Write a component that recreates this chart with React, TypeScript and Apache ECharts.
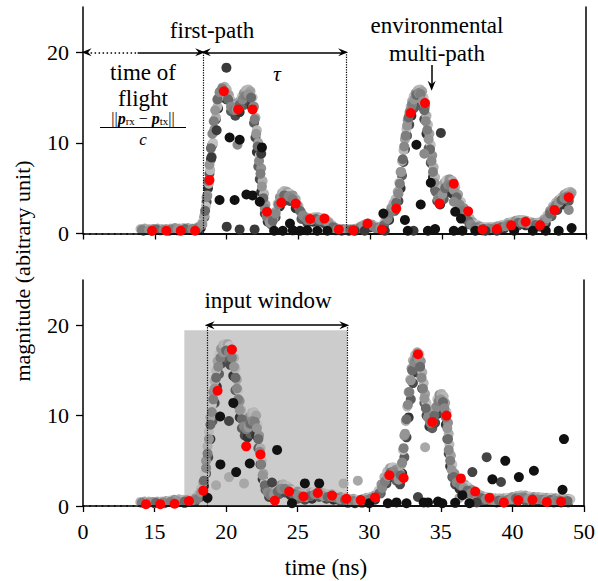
import React, { useEffect, useRef } from "react";
import * as echarts from "echarts";

const FONT = "Liberation Serif, serif";

// x axis: drawn positions 10..45 ns, end labels show the broken-axis values
const X_LABELS: Record<number, string> = { 10: "0", 15: "15", 20: "20", 25: "25", 30: "30", 35: "35", 40: "40", 45: "50" };
const Y_TICKS = [0, 10, 20];

// ---------- top panel ----------
const topRedT = [14.8, 15.8, 16.8, 17.8, 18.8, 19.8, 20.8, 21.8, 22.8, 23.8, 24.8, 25.8, 26.8, 27.8, 28.8, 29.8, 30.8, 31.8, 32.8, 33.8, 34.8, 35.8, 36.8, 37.8, 38.8, 39.8, 40.8, 41.8, 42.8, 43.8];
const topRedV = [0.3, 0.3, 0.3, 0.3, 5.9, 15.7, 13.7, 13.7, 2.4, 3.4, 3.3, 1.6, 1.65, 0.45, 0.35, 1.1, 0.45, 2.75, 13.3, 14.4, 3.3, 5.5, 2.45, 0.45, 0.5, 0.9, 1.3, 0.9, 2.6, 4.0];

const topLight = [[14.0,0.5],[14.3,0.55],[14.6,0.5],[14.9,0.5],[15.2,0.55],[15.5,0.5],[15.8,0.5],[16.1,0.55],[16.4,0.6],[16.7,0.55],[17.0,0.6],[17.3,0.6],[17.6,0.55],[17.9,0.6],[18.1,0.8],[18.3,1.2],[18.45,2.0],[18.55,3.0],[18.65,4.2],[18.75,5.5],[18.85,7.0],[18.95,8.5],[19.05,10.0],[19.15,11.5],[19.25,12.8],[19.35,14.0],[19.45,15.0],[19.55,15.7],[19.7,16.1],[19.85,16.2],[20.0,15.9],[20.15,15.3],[20.3,14.7],[20.45,14.3],[20.6,14.1],[20.75,14.2],[20.9,14.6],[21.05,15.1],[21.2,15.5],[21.35,15.8],[21.5,15.9],[21.65,15.7],[21.8,15.0],[21.9,14.0],[22.0,12.8],[22.1,11.4],[22.2,10.0],[22.3,8.6],[22.4,7.2],[22.5,5.8],[22.6,4.4],[22.7,3.2],[22.8,2.2],[22.95,1.5],[23.1,1.3],[23.25,1.6],[23.4,2.4],[23.55,3.3],[23.7,4.0],[23.85,4.5],[24.0,4.7],[24.2,4.6],[24.4,4.4],[24.6,4.2],[24.8,3.8],[25.0,3.0],[25.2,2.3],[25.4,1.9],[25.6,1.7],[25.85,1.7],[26.1,1.8],[26.35,1.8],[26.6,1.7],[26.85,1.6],[27.1,1.3],[27.35,0.9],[27.6,0.6],[27.85,0.5],[28.1,0.5],[28.35,0.5],[28.6,0.5],[28.85,0.5],[29.1,0.6],[29.35,0.8],[29.6,1.0],[29.85,1.1],[30.1,1.0],[30.35,0.8],[30.6,0.7],[30.85,0.9],[31.0,1.3],[31.15,1.8],[31.3,2.3],[31.45,2.8],[31.6,3.3],[31.75,3.8],[31.9,4.6],[32.0,5.6],[32.1,6.8],[32.2,8.0],[32.3,9.2],[32.4,10.4],[32.5,11.5],[32.6,12.5],[32.7,13.3],[32.8,14.0],[32.9,14.6],[33.0,15.1],[33.15,15.5],[33.3,15.8],[33.45,15.9],[33.6,15.7],[33.7,15.0],[33.8,14.0],[33.9,13.0],[34.0,12.0],[34.1,11.0],[34.2,9.8],[34.3,8.6],[34.4,7.3],[34.5,6.2],[34.6,5.3],[34.7,4.6],[34.8,4.2],[34.9,4.4],[35.0,5.0],[35.15,5.6],[35.3,5.9],[35.5,6.0],[35.7,5.8],[35.9,5.1],[36.1,4.3],[36.3,3.5],[36.5,2.8],[36.7,2.2],[36.9,1.7],[37.1,1.3],[37.35,1.0],[37.6,0.8],[37.85,0.7],[38.1,0.7],[38.35,0.7],[38.6,0.75],[38.85,0.8],[39.1,0.9],[39.35,1.0],[39.6,1.2],[39.85,1.3],[40.1,1.4],[40.35,1.5],[40.6,1.5],[40.85,1.4],[41.1,1.3],[41.35,1.2],[41.6,1.2],[41.85,1.3],[42.1,1.6],[42.3,2.0],[42.5,2.5],[42.7,3.0],[42.9,3.4],[43.1,3.7],[43.3,4.0],[43.5,4.3],[43.7,4.5],[43.9,4.6],[44.0,4.5]];

const topMid = [[14.1,0.4],[14.6,0.4],[15.1,0.45],[15.6,0.4],[16.1,0.45],[16.6,0.5],[17.1,0.5],[17.6,0.5],[18.0,0.6],[18.3,1.0],[18.5,2.5],[18.6,4.0],[18.7,5.8],[18.8,7.6],[18.9,9.4],[19.0,11.0],[19.1,12.4],[19.2,13.6],[19.35,14.8],[19.5,15.6],[19.7,16.0],[19.9,15.6],[20.1,14.8],[20.3,14.0],[20.5,13.6],[20.7,13.7],[20.9,14.2],[21.1,14.8],[21.3,15.2],[21.5,15.4],[21.7,15.0],[21.85,14.0],[21.95,12.6],[22.05,11.0],[22.15,9.6],[22.25,8.0],[22.35,6.6],[22.45,5.2],[22.55,3.9],[22.65,2.8],[22.8,1.8],[23.0,1.2],[23.2,1.4],[23.4,2.2],[23.6,3.2],[23.8,3.9],[24.0,4.2],[24.3,4.1],[24.6,3.8],[24.9,3.2],[25.1,2.5],[25.3,2.0],[25.6,1.5],[25.9,1.5],[26.2,1.6],[26.5,1.5],[26.8,1.4],[27.1,1.1],[27.4,0.7],[27.7,0.45],[28.0,0.4],[28.3,0.4],[28.6,0.4],[28.9,0.45],[29.2,0.55],[29.5,0.8],[29.8,0.9],[30.1,0.85],[30.4,0.6],[30.7,0.6],[30.95,0.9],[31.2,1.6],[31.4,2.3],[31.6,2.9],[31.8,3.4],[31.95,4.4],[32.05,5.5],[32.15,6.8],[32.25,8.2],[32.35,9.6],[32.45,10.8],[32.55,11.9],[32.65,12.8],[32.75,13.5],[32.9,14.2],[33.05,14.8],[33.2,15.3],[33.35,15.5],[33.5,15.4],[33.65,14.6],[33.75,13.6],[33.85,12.4],[33.95,11.4],[34.05,10.4],[34.15,9.3],[34.25,8.0],[34.35,6.8],[34.45,5.6],[34.55,4.6],[34.7,3.8],[34.85,3.7],[35.0,4.3],[35.2,5.0],[35.4,5.4],[35.6,5.3],[35.8,4.8],[36.0,4.0],[36.2,3.2],[36.4,2.5],[36.6,1.9],[36.8,1.4],[37.0,1.0],[37.3,0.7],[37.6,0.5],[37.9,0.5],[38.2,0.5],[38.5,0.55],[38.8,0.6],[39.1,0.7],[39.4,0.8],[39.7,1.0],[40.0,1.1],[40.3,1.2],[40.6,1.2],[40.9,1.1],[41.2,1.0],[41.5,0.95],[41.8,1.0],[42.1,1.3],[42.3,1.7],[42.5,2.2],[42.7,2.7],[42.9,3.1],[43.1,3.4],[43.3,3.7],[43.5,3.9],[43.7,4.1],[43.9,4.2]];

const topDark = [[14.2,0.3],[14.8,0.3],[15.4,0.35],[16.0,0.3],[16.6,0.35],[17.2,0.4],[17.8,0.4],[18.2,0.6],[18.45,1.8],[18.6,3.5],[18.7,5.0],[18.8,6.6],[18.9,8.2],[19.0,9.8],[19.1,11.2],[19.25,12.6],[19.4,13.8],[19.6,15.0],[19.8,15.3],[20.0,14.8],[20.3,13.5],[20.6,13.0],[20.9,13.4],[21.2,14.2],[21.5,14.6],[21.75,14.0],[21.9,12.2],[22.0,10.6],[22.1,9.0],[22.2,7.4],[22.3,6.0],[22.4,4.6],[22.5,3.4],[22.65,2.2],[22.85,1.3],[23.1,1.0],[23.4,1.8],[23.7,3.0],[24.0,3.6],[24.4,3.6],[24.8,2.8],[25.2,1.6],[25.6,1.2],[26.0,1.3],[26.4,1.3],[26.8,1.1],[27.2,0.7],[27.6,0.35],[28.0,0.3],[28.5,0.3],[29.0,0.35],[29.5,0.6],[30.0,0.7],[30.5,0.45],[30.9,0.6],[31.3,1.5],[31.7,2.5],[31.95,3.6],[32.1,5.0],[32.2,6.4],[32.3,7.9],[32.4,9.3],[32.55,10.8],[32.7,12.0],[32.85,13.0],[33.0,13.8],[33.2,14.5],[33.4,14.8],[33.6,14.0],[33.75,12.6],[33.9,11.0],[34.05,9.4],[34.2,7.8],[34.35,6.2],[34.5,4.8],[34.65,3.6],[34.85,3.2],[35.1,3.8],[35.4,4.6],[35.7,4.4],[36.0,3.5],[36.3,2.4],[36.6,1.6],[36.9,1.0],[37.3,0.5],[37.8,0.35],[38.3,0.35],[38.8,0.4],[39.3,0.55],[39.8,0.8],[40.3,0.9],[40.8,0.9],[41.3,0.7],[41.8,0.75],[42.2,1.1],[42.6,1.9],[43.0,2.6],[43.4,3.2],[43.8,3.6]];

const topBlack = [[20.2,10.6],[20.9,10.35],[19.5,3.7],[20.55,3.7],[21.37,4.3],[21.8,4.2],[22.3,3.5],[22.45,9.5],[24.4,1.1],[33.2,9.8],[33.5,3.2],[34.2,5.6],[35.9,2.4],[36.3,1.65],[30.9,2.2],[32.4,1.5],[23.3,0.3],[23.9,0.3],[24.6,0.35],[25.1,0.3],[25.6,0.35],[26.3,0.3],[27.0,0.3],[32.6,0.3],[34.0,0.3],[34.5,0.5],[35.8,0.3],[36.4,0.3],[37.3,0.3],[40.0,0.3],[41.3,0.3],[42.2,0.3],[43.1,0.3],[44.0,0.6]];
const topDarkGray = [[19.98,18.3],[20.0,0.75],[20.9,0.45],[21.94,0.45],[18.94,8.4],[19.3,11.4],[22.4,8.8],[34.9,11.1],[28.9,0.3],[29.6,0.3],[31.0,0.3],[33.0,0.3],[38.0,0.3],[38.8,0.3]];
const topLightOut = [[20.75,9.8],[33.75,8.8],[35.8,3.5],[43.8,2.6]];

// ---------- bottom panel ----------
const botRedT = [14.4, 15.4, 16.4, 17.4, 18.4, 19.4, 20.4, 21.4, 22.4, 23.4, 24.4, 25.4, 26.4, 27.4, 28.4, 29.4, 30.4, 31.4, 32.4, 33.4, 34.4, 35.4, 36.4, 37.4, 38.4, 39.4, 40.4, 41.4, 42.4, 43.4];
const botRedV = [0.2, 0.2, 0.25, 0.55, 1.7, 12.75, 17.3, 6.6, 5.7, 0.6, 1.6, 1.05, 1.45, 1.15, 0.8, 0.65, 0.95, 3.4, 3.1, 16.8, 9.3, 10.0, 3.05, 1.6, 0.9, 0.4, 0.65, 0.7, 0.45, 0.5];

const botLight = [[14.0,0.45],[14.3,0.5],[14.6,0.5],[14.9,0.45],[15.2,0.5],[15.5,0.5],[15.8,0.55],[16.1,0.6],[16.4,0.7],[16.7,0.75],[17.0,0.7],[17.3,0.7],[17.6,0.75],[17.9,0.9],[18.1,1.3],[18.25,1.9],[18.4,2.6],[18.5,3.6],[18.6,5.0],[18.7,6.6],[18.8,8.2],[18.9,9.8],[19.0,11.2],[19.1,12.6],[19.2,13.8],[19.3,15.0],[19.4,16.0],[19.5,16.8],[19.65,17.4],[19.8,17.8],[19.95,17.9],[20.1,17.9],[20.25,17.7],[20.4,17.3],[20.55,16.4],[20.65,15.2],[20.75,14.0],[20.85,12.8],[20.95,11.6],[21.05,10.6],[21.2,9.8],[21.35,9.4],[21.5,9.5],[21.65,9.9],[21.8,10.3],[21.95,10.4],[22.1,10.0],[22.2,9.0],[22.3,7.8],[22.4,6.4],[22.5,5.0],[22.6,3.6],[22.7,2.6],[22.85,1.9],[23.0,1.6],[23.2,1.5],[23.4,1.7],[23.6,2.0],[23.8,2.3],[24.0,2.4],[24.25,2.2],[24.5,1.9],[24.75,1.7],[25.0,1.6],[25.3,1.4],[25.6,1.3],[25.9,1.5],[26.2,1.6],[26.5,1.6],[26.8,1.4],[27.1,1.3],[27.4,1.3],[27.7,1.2],[28.0,1.0],[28.3,0.9],[28.6,0.8],[28.9,0.8],[29.2,0.7],[29.5,0.75],[29.8,0.9],[30.1,1.0],[30.4,1.2],[30.65,1.7],[30.85,2.4],[31.05,3.2],[31.25,3.8],[31.45,4.2],[31.65,4.3],[31.85,4.0],[32.0,3.6],[32.15,3.6],[32.25,4.6],[32.35,6.2],[32.45,7.8],[32.55,9.4],[32.65,11.0],[32.75,12.6],[32.85,14.0],[32.95,15.2],[33.05,16.1],[33.2,16.7],[33.35,17.0],[33.5,16.8],[33.6,16.0],[33.7,14.8],[33.8,13.6],[33.9,12.4],[34.0,11.4],[34.15,10.4],[34.3,9.8],[34.45,9.9],[34.6,10.8],[34.75,11.8],[34.9,12.3],[35.05,12.4],[35.2,12.1],[35.3,11.4],[35.4,10.4],[35.5,9.2],[35.55,8.0],[35.6,6.8],[35.7,5.6],[35.8,4.6],[35.95,3.6],[36.15,3.0],[36.4,2.7],[36.65,2.4],[36.9,2.1],[37.15,1.8],[37.4,1.5],[37.65,1.3],[37.9,1.1],[38.2,1.0],[38.5,0.9],[38.8,0.85],[39.1,0.85],[39.4,0.85],[39.7,0.9],[40.0,1.0],[40.3,1.1],[40.6,1.2],[40.9,1.15],[41.2,1.05],[41.5,1.0],[41.8,1.0],[42.1,0.95],[42.4,0.9],[42.7,0.9],[43.0,0.85],[43.3,0.85],[43.6,0.8],[43.9,0.8],[44.05,0.75]];

const botMid = [[14.1,0.35],[14.6,0.4],[15.1,0.35],[15.6,0.4],[16.1,0.45],[16.6,0.55],[17.1,0.5],[17.6,0.55],[18.0,0.8],[18.25,1.5],[18.45,2.8],[18.6,4.2],[18.7,5.8],[18.8,7.4],[18.9,9.0],[19.0,10.4],[19.1,11.8],[19.2,13.0],[19.3,14.2],[19.45,15.4],[19.6,16.4],[19.8,17.0],[20.0,17.2],[20.2,17.0],[20.4,16.4],[20.55,15.4],[20.65,14.2],[20.75,13.0],[20.85,11.8],[20.95,10.6],[21.1,9.6],[21.25,8.8],[21.4,8.5],[21.55,8.7],[21.7,9.1],[21.85,9.4],[22.0,9.3],[22.15,8.6],[22.25,7.4],[22.35,6.0],[22.45,4.6],[22.55,3.4],[22.7,2.3],[22.9,1.5],[23.1,1.2],[23.35,1.3],[23.6,1.6],[23.85,1.9],[24.1,1.9],[24.4,1.6],[24.7,1.3],[25.0,1.2],[25.3,1.0],[25.6,1.0],[25.9,1.1],[26.2,1.3],[26.5,1.3],[26.8,1.1],[27.1,1.0],[27.4,1.0],[27.7,0.9],[28.0,0.75],[28.3,0.65],[28.6,0.55],[28.9,0.55],[29.2,0.5],[29.5,0.55],[29.8,0.65],[30.1,0.8],[30.4,0.95],[30.7,1.4],[30.9,2.0],[31.1,2.7],[31.3,3.3],[31.5,3.7],[31.7,3.8],[31.9,3.4],[32.05,2.9],[32.2,3.4],[32.3,4.8],[32.4,6.4],[32.5,8.0],[32.6,9.6],[32.7,11.2],[32.8,12.6],[32.9,13.9],[33.0,15.0],[33.15,15.9],[33.3,16.4],[33.45,16.3],[33.55,15.4],[33.65,14.2],[33.75,13.0],[33.85,11.9],[33.95,10.8],[34.1,9.8],[34.25,9.2],[34.4,9.3],[34.55,10.0],[34.7,11.0],[34.85,11.6],[35.0,11.8],[35.15,11.5],[35.25,10.8],[35.35,9.8],[35.45,8.6],[35.5,7.4],[35.55,6.2],[35.65,5.0],[35.75,4.0],[35.9,3.2],[36.1,2.6],[36.35,2.3],[36.6,2.0],[36.85,1.7],[37.1,1.4],[37.35,1.2],[37.6,1.0],[37.85,0.85],[38.15,0.75],[38.45,0.65],[38.75,0.6],[39.05,0.6],[39.35,0.6],[39.65,0.65],[39.95,0.75],[40.25,0.85],[40.55,0.95],[40.85,0.9],[41.15,0.8],[41.45,0.75],[41.75,0.75],[42.05,0.7],[42.35,0.65],[42.65,0.65],[42.95,0.6],[43.25,0.6],[43.55,0.55],[43.85,0.55]];

const botDark = [[14.3,0.3],[15.0,0.3],[15.7,0.3],[16.4,0.35],[17.1,0.35],[17.8,0.45],[18.2,1.0],[18.45,2.2],[18.6,3.6],[18.75,5.4],[18.9,7.4],[19.05,9.4],[19.2,11.4],[19.35,13.2],[19.5,14.6],[19.7,15.8],[19.9,16.4],[20.1,16.3],[20.3,15.6],[20.5,14.4],[20.65,12.8],[20.8,11.2],[20.95,9.8],[21.1,8.6],[21.3,7.8],[21.5,7.6],[21.7,8.0],[21.9,8.4],[22.1,7.8],[22.25,6.4],[22.4,4.6],[22.55,3.0],[22.75,1.8],[23.0,1.0],[23.3,0.9],[23.7,1.3],[24.1,1.5],[24.5,1.2],[25.0,0.8],[25.5,0.7],[26.0,0.8],[26.5,1.0],[27.0,0.8],[27.5,0.7],[28.0,0.5],[28.5,0.35],[29.0,0.3],[29.5,0.35],[30.0,0.5],[30.4,0.7],[30.8,1.4],[31.2,2.5],[31.6,3.2],[31.9,2.8],[32.15,2.4],[32.3,3.6],[32.45,5.4],[32.6,7.6],[32.75,9.8],[32.9,11.8],[33.05,13.6],[33.2,14.8],[33.4,15.4],[33.55,14.6],[33.7,13.0],[33.85,11.4],[34.0,10.0],[34.2,8.8],[34.4,8.6],[34.6,9.2],[34.8,10.2],[35.0,10.8],[35.2,10.4],[35.35,9.0],[35.45,7.4],[35.55,5.8],[35.65,4.4],[35.8,3.2],[36.0,2.4],[36.3,1.9],[36.7,1.5],[37.1,1.1],[37.5,0.8],[37.9,0.6],[38.4,0.45],[38.9,0.4],[39.4,0.4],[39.9,0.5],[40.4,0.6],[40.9,0.6],[41.4,0.5],[41.9,0.5],[42.4,0.45],[42.9,0.4],[43.4,0.4],[43.9,0.4]];

const botBlack = [[19.58,9.9],[20.5,11.4],[19.6,4.6],[20.7,3.75],[21.65,4.7],[23.56,6.2],[18.7,0.9],[43.6,7.4],[39.5,5.0],[41.5,3.9],[40.45,3.2],[38.6,2.95],[43.5,1.8],[25.5,2.5],[26.5,2.5],[34.8,0.5],[36.5,1.2],[30.0,0.3],[31.3,0.3],[31.9,0.4],[32.6,0.3],[33.8,0.4],[34.1,0.4],[35.1,0.3],[36.0,0.35],[37.0,0.3],[24.6,0.3]];
const botDarkGray = [[20.2,9.4],[23.2,2.6],[38.2,5.4],[39.2,2.65],[37.2,3.75],[33.4,1.0],[37.5,0.4]];
const botLightOut = [[19.3,2.3],[20.2,3.2],[21.25,2.5],[33.9,6.5],[29.2,2.8],[28.2,2.5],[37.0,0.4],[36.3,0.9]];

// shaded input window (x0, x1, top)
const WINDOW = { x0: 17.08, x1: 28.45, top: 19.45 };
// annotation positions in data units
const TOP_FIRST = 18.35, TOP_TAU_END = 28.3, BOT_FIRST = 18.65, BOT_TAU_END = 28.45, BREAK_END = 13.8, ARROW_Y = 20;
const MULTIPATH_ARROW = { t: 34.26, from: 18.6, to: 16.3 };

// grey shades used to give each cloud of samples its mottled look
const SHADES_LIGHT = ["#b8b8b8", "#a2a2a2", "#c2c2c2", "#929292", "#aeaeae"];
const SHADES_MID = ["#7e7e7e", "#959595", "#6a6a6a", "#888888"];
const SHADES_DARK = ["#4a4a4a", "#333333", "#5e5e5e"];
const C_DGRAY = "#3a3a3a", C_BLACK = "#111111", C_RED = "#ff0000";

const ARROW = "path://M5,0 L10,10 L5,6.5 L0,10 Z";

function scatter(data: number[][], color: string | string[], xi: number, z: number) {
  const fill = Array.isArray(color) ? (p: any) => color[p.dataIndex % color.length] : color;
  return {
    type: "scatter",
    xAxisIndex: xi,
    yAxisIndex: xi,
    data,
    symbolSize: 10,
    itemStyle: { color: fill, opacity: 1 },
    silent: true,
    z,
  };
}

function seg(a: number[], b: number[], style: any, s0 = "none", s1 = "none") {
  return [
    { coord: a, symbol: s0, symbolSize: [8, 10], lineStyle: style },
    { coord: b, symbol: s1, symbolSize: [8, 10] },
  ];
}

const SOLID = { color: "#000", width: 1.5, type: "solid" };
const DOT_BASE = { color: "#000", width: 1.6, type: [1.6, 4.6] };
const DOT_TOF = { color: "#000", width: 1.5, type: [1.5, 2.5] };
const DOT_V = { color: "#000", width: 1.2, type: [1.2, 1.3] };

function frameAxesX(grid: number, labels: boolean) {
  return [
    {
      gridIndex: grid, type: "value", min: 10, max: 45, interval: 5, position: "bottom",
      axisLine: { show: false },
      axisTick: { show: true, length: 6, lineStyle: { color: "#000", width: 1.3 } },
      axisLabel: {
        show: labels, fontFamily: FONT, fontSize: 22, color: "#000", margin: 14,
        formatter: (v: number) => X_LABELS[v] ?? "",
      },
      splitLine: { show: false },
    },
    {
      gridIndex: grid, type: "value", min: 10, max: 45, position: "top",
      axisLine: { show: true, lineStyle: { color: "#000", width: 1.5 } },
      axisTick: { show: false }, axisLabel: { show: false }, splitLine: { show: false },
    },
  ];
}

function frameAxesY(grid: number) {
  return [
    {
      gridIndex: grid, type: "value", min: 0, max: 25, interval: 10, position: "left",
      axisLine: { show: true, lineStyle: { color: "#000", width: 1.5 } },
      axisTick: { show: true, length: 7, customValues: Y_TICKS, lineStyle: { color: "#000", width: 1.3 } },
      axisLabel: { fontFamily: FONT, fontSize: 22, color: "#000", margin: 14, customValues: Y_TICKS },
      splitLine: { show: false },
    },
    {
      gridIndex: grid, type: "value", min: 0, max: 25, position: "right",
      axisLine: { show: true, lineStyle: { color: "#000", width: 1.5 } },
      axisTick: { show: false }, axisLabel: { show: false }, splitLine: { show: false },
    },
  ];
}

const topLines = [
  seg([10, 0], [BREAK_END, 0], DOT_BASE),
  seg([BREAK_END, 0], [45, 0], SOLID),
  seg([10.25, ARROW_Y], [BREAK_END, ARROW_Y], DOT_TOF, ARROW, "none"),
  seg([BREAK_END, ARROW_Y], [TOP_FIRST - 0.2, ARROW_Y], SOLID, "none", ARROW),
  seg([TOP_FIRST + 0.2, ARROW_Y], [TOP_TAU_END - 0.2, ARROW_Y], SOLID, ARROW, ARROW),
  seg([TOP_FIRST, 0], [TOP_FIRST, ARROW_Y], DOT_V),
  seg([TOP_TAU_END, 0.6], [TOP_TAU_END, ARROW_Y], DOT_V),
  seg([MULTIPATH_ARROW.t, MULTIPATH_ARROW.from], [MULTIPATH_ARROW.t, MULTIPATH_ARROW.to], SOLID, "none", ARROW),
];

const botLines = [
  seg([10, 0], [BREAK_END, 0], DOT_BASE),
  seg([BREAK_END, 0], [45, 0], SOLID),
  seg([BOT_FIRST + 0.2, ARROW_Y], [BOT_TAU_END - 0.2, ARROW_Y], SOLID, ARROW, ARROW),
  seg([BOT_FIRST, 0], [BOT_FIRST, ARROW_Y], DOT_V),
  seg([BOT_TAU_END, 0], [BOT_TAU_END, ARROW_Y], DOT_V),
];

function helper(xi: number, lines: any[], area?: any) {
  return {
    type: "line",
    xAxisIndex: xi,
    yAxisIndex: xi,
    data: [],
    silent: true,
    z: 1,
    markLine: {
      silent: true, animation: false, symbol: "none",
      label: { show: false }, emphasis: { disabled: true },
      data: lines,
    },
    markArea: area
      ? { silent: true, itemStyle: { color: "#cccccc", opacity: 1 }, label: { show: false }, data: [area] }
      : undefined,
  };
}

const textStyle = (text: string, size = 23, extra: any = {}) => ({
  text, fontFamily: FONT, fontSize: size, fill: "#000", align: "center", verticalAlign: "middle", ...extra,
});

export default function App() {
  const ref = useRef<HTMLDivElement>(null);
  useEffect(() => {
    const chart = echarts.init(ref.current!, null, { renderer: "svg" });
    const option: any = {
      animation: false,
      backgroundColor: "#fff",
      textStyle: { fontFamily: FONT },
      grid: [
        { left: 83, top: 7, width: 503, height: 226.5 },
        { left: 83, top: 280, width: 503, height: 226 },
      ],
      xAxis: [...frameAxesX(0, false), ...frameAxesX(1, true)],
      yAxis: [...frameAxesY(0), ...frameAxesY(1)],
      series: [
        helper(0, topLines),
        scatter(topDark, SHADES_DARK, 0, 2),
        scatter(topLight, SHADES_LIGHT, 0, 3),
        scatter(topMid, SHADES_MID, 0, 4),
        scatter(topLightOut, "#8a8a8a", 0, 5),
        scatter(topDarkGray, C_DGRAY, 0, 5),
        scatter(topBlack, C_BLACK, 0, 5),
        scatter(topRedT.map((t, i) => [t, topRedV[i]]), C_RED, 0, 6),
        helper(2, botLines, [{ coord: [WINDOW.x0, 0] }, { coord: [WINDOW.x1, WINDOW.top] }]),
        scatter(botDark, SHADES_DARK, 2, 2),
        scatter(botLight, SHADES_LIGHT, 2, 3),
        scatter(botMid, SHADES_MID, 2, 4),
        scatter(botLightOut, "#a8a8a8", 2, 5),
        scatter(botDarkGray, "#444444", 2, 5),
        scatter(botBlack, C_BLACK, 2, 5),
        scatter(botRedT.map((t, i) => [t, botRedV[i]]), C_RED, 2, 6),
      ],
      graphic: [
        { type: "text", x: 212, y: 30, style: textStyle("first-path") },
        { type: "text", x: 143, y: 72, style: textStyle("time of") },
        { type: "text", x: 143, y: 98, style: textStyle("flight") },
        {
          type: "text", x: 143, y: 118,
          style: {
            text: "{a|||}{p|p}{s|rx}{a| − }{p|p}{s|tx}{a|||}",
            align: "center", verticalAlign: "middle", fill: "#000",
            rich: {
              a: { fontFamily: FONT, fontSize: 16, height: 17, verticalAlign: "middle" },
              p: { fontFamily: FONT, fontSize: 16, height: 17, fontWeight: "bold", fontStyle: "italic", verticalAlign: "middle" },
              s: { fontFamily: FONT, fontSize: 11, height: 11, verticalAlign: "bottom" },
            },
          },
        },
        { type: "line", shape: { x1: 100, y1: 127.5, x2: 186, y2: 127.5 }, style: { stroke: "#000", lineWidth: 1 } },
        { type: "text", x: 143, y: 139, style: textStyle("c", 17, { fontStyle: "italic" }) },
        { type: "text", x: 277, y: 73, style: textStyle("τ", 22, { fontStyle: "italic" }) },
        { type: "text", x: 437, y: 25, style: textStyle("environmental") },
        { type: "text", x: 437, y: 53, style: textStyle("multi-path") },
        { type: "text", x: 268, y: 300, style: textStyle("input window") },
        { type: "text", x: 277, y: 347, style: textStyle("τ", 22, { fontStyle: "italic" }) },
        { type: "text", x: 22, y: 271, rotation: Math.PI / 2, style: textStyle("magnitude (abitrary unit)", 22) },
        { type: "text", x: 326, y: 567, style: textStyle("time (ns)") },
      ],
    };
    chart.setOption(option);
    return () => chart.dispose();
  }, []);
  return <div ref={ref} style={{ position: "absolute", left: 0, top: 0, width: 598, height: 581 }} />;
}
